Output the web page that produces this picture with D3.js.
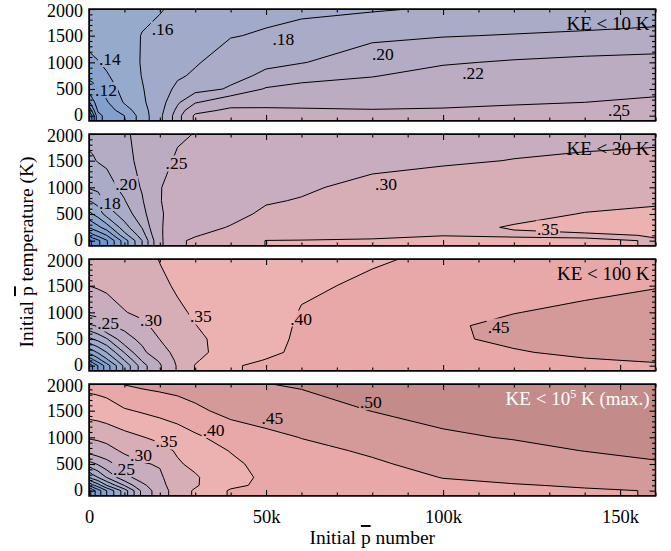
<!DOCTYPE html>
<html><head><meta charset="utf-8">
<script src="https://cdn.jsdelivr.net/npm/d3@7"></script>
<style>
html,body{margin:0;padding:0;background:#fff}
svg{display:block}
text{font-family:"Liberation Serif","Times New Roman",serif}
</style>
</head><body>
<svg id="chart" width="671" height="551"></svg>
<script>
// ---------- DATA ----------
// grid axes: initial pbar number (columns) and initial pbar temperature in K (rows)
const nGrid = [0, 1000, 2500, 5000, 10000, 15000, 20000, 25000, 30000, 40000, 50000, 60000, 80000, 100000, 120000, 140000, 160000];
const tGrid = [0, 100, 250, 500, 750, 1000, 1500, 2000];
const levels = [0.02, 0.04, 0.06, 0.08, 0.10, 0.12, 0.14, 0.16, 0.18, 0.20, 0.22, 0.25, 0.30, 0.35, 0.40, 0.45, 0.50];

// each row = one N column, values at tGrid temperatures
const ke10 = [
  [.02, .04, .075, .11, .125, .135, .147, .152],
  [.045, .07, .095, .113, .127, .137, .148, .153],
  [.095, .102, .107, .118, .13, .139, .15, .154],
  [.105, .11, .118, .128, .138, .144, .152, .156],
  [.12, .13, .142, .148, .151, .153, .155, .156],
  [.15, .153, .157, .159, .1605, .161, .1605, .157],
  [.175, .173, .171, .169, .167, .166, .164, .159],
  [.21, .205, .197, .185, .177, .172, .167, .163],
  [.255, .24, .218, .193, .183, .178, .174, .167],
  [.27, .256, .237, .202, .195, .19, .179, .172],
  [.272, .255, .24, .222, .203, .197, .182, .175],
  [.273, .253, .242, .226, .213, .199, .185, .177],
  [.275, .251, .243, .229, .219, .211, .196, .178],
  [.28, .252, .245, .235, .227, .218, .199, .182],
  [.285, .254, .248, .238, .23, .222, .201, .185],
  [.29, .26, .25, .241, .233, .225, .203, .187],
  [.295, .265, .255, .243, .235, .227, .205, .19]
];
const ke30 = [
  [.03, .065, .10, .135, .16, .182, .197, .205],
  [.045, .075, .107, .14, .163, .184, .198, .206],
  [.055, .085, .115, .148, .168, .186, .201, .207],
  [.078, .10, .13, .168, .186, .193, .203, .208],
  [.13, .152, .172, .19, .199, .205, .212, .216],
  [.18, .19, .201, .212, .218, .222, .227, .228],
  [.24, .243, .245, .246, .249, .249, .238, .232],
  [.295, .285, .275, .265, .26, .258, .255, .245],
  [.305, .298, .288, .278, .272, .268, .26, .251],
  [.318, .312, .302, .29, .283, .278, .27, .262],
  [.351, .328, .318, .306, .297, .29, .278, .268],
  [.352, .333, .323, .312, .302, .295, .282, .272],
  [.355, .34, .333, .325, .317, .31, .29, .28],
  [.36, .349, .342, .336, .328, .32, .295, .285],
  [.358, .346, .352, .343, .335, .327, .301, .287],
  [.353, .347, .357, .351, .343, .333, .305, .29],
  [.349, .351, .362, .357, .345, .338, .308, .292]
];
const ke100 = [
  [.04, .085, .125, .175, .215, .26, .301, .315],
  [.06, .095, .132, .18, .218, .262, .302, .317],
  [.08, .11, .142, .186, .223, .265, .305, .318],
  [.11, .135, .16, .198, .245, .275, .31, .322],
  [.165, .18, .201, .235, .26, .298, .318, .326],
  [.21, .222, .24, .26, .29, .31, .322, .33],
  [.245, .255, .28, .301, .315, .325, .34, .352],
  [.305, .31, .315, .325, .333, .342, .356, .362],
  [.352, .345, .335, .34, .349, .356, .365, .37],
  [.395, .385, .375, .37, .372, .375, .378, .38],
  [.41, .402, .39, .385, .385, .383, .382, .381],
  [.418, .415, .41, .408, .405, .402, .395, .39],
  [.425, .423, .42, .418, .415, .412, .405, .397],
  [.43, .432, .436, .446, .445, .435, .42, .405],
  [.44, .443, .448, .455, .458, .449, .44, .425],
  [.445, .448, .455, .465, .468, .458, .44, .43],
  [.447, .452, .46, .47, .47, .465, .448, .435]
];
const keMax = [
  [.05, .101, .16, .21, .262, .305, .372, .415],
  [.07, .115, .17, .215, .265, .307, .373, .416],
  [.09, .13, .18, .222, .27, .31, .375, .418],
  [.12, .16, .201, .235, .28, .318, .38, .422],
  [.17, .201, .235, .27, .31, .335, .395, .452],
  [.225, .24, .27, .295, .33, .348, .405, .46],
  [.27, .28, .29, .305, .335, .36, .415, .465],
  [.33, .335, .34, .345, .355, .375, .425, .47],
  [.355, .345, .345, .36, .375, .392, .44, .475],
  [.405, .39, .385, .39, .402, .42, .465, .49],
  [.415, .41, .408, .415, .425, .44, .47, .499],
  [.425, .42, .42, .43, .44, .451, .48, .505],
  [.43, .432, .435, .445, .455, .47, .501, .52],
  [.44, .443, .451, .462, .478, .493, .515, .53],
  [.445, .448, .458, .472, .487, .503, .522, .535],
  [.447, .453, .465, .48, .501, .51, .527, .54],
  [.451, .458, .47, .497, .507, .515, .532, .545]
];

// contour labels: text and location (number, temperature)
const labels10 = [
  {text: ".16", n: 20800, t: 1616}, {text: ".14", n: 5900, t: 1062}, {text: ".12", n: 4800, t: 481},
  {text: ".18", n: 54900, t: 1437}, {text: ".20", n: 83000, t: 1156}, {text: ".22", n: 108500, t: 800},
  {text: ".25", n: 149700, t: 106}
];
const labels30 = [
  {text: ".25", n: 24700, t: 1447}, {text: ".20", n: 10500, t: 1062}, {text: ".18", n: 5900, t: 706},
  {text: ".30", n: 83900, t: 1062}, {text: ".35", n: 129600, t: 228}
];
const labels100 = [
  {text: ".25", n: 5400, t: 791}, {text: ".30", n: 17500, t: 856}, {text: ".35", n: 31600, t: 922},
  {text: ".40", n: 59900, t: 884}, {text: ".45", n: 115700, t: 734}
];
const labelsMax = [
  {text: ".25", n: 9900, t: 406}, {text: ".30", n: 14700, t: 669}, {text: ".35", n: 21900, t: 922},
  {text: ".40", n: 35200, t: 1137}, {text: ".45", n: 51800, t: 1362}, {text: ".50", n: 79600, t: 1662}
];

const titles = [
  [{s: "KE < 10 K"}],
  [{s: "KE < 30 K"}],
  [{s: "KE < 100 K"}],
  [{s: "KE < 10"}, {s: "5", sup: true}, {s: " K (max.)"}]
];
const titleColors = ["#000", "#000", "#000", "#fff"];

const xTicks = [0, 50000, 100000, 150000];
const yTicks = [0, 500, 1000, 1500, 2000];

// colour map (value -> fill colour)
const colorValues = [0, 0.04, 0.08, 0.12, 0.14, 0.16, 0.18, 0.20, 0.22, 0.25, 0.30, 0.35, 0.40, 0.45, 0.50];
const colorHex = ["#5f84cf", "#6d90cf", "#7b9ace", "#8aa3cd", "#96aacb", "#a1abc9", "#aaabc7", "#b3acc4",
                  "#bbacc2", "#c8adbf", "#d8aeb6", "#ecb2b2", "#e8a8a8", "#d49a99", "#c38b8a"];

// ---------- RENDER ----------
const left = 89, right = 655.5, ph = 112, pstep = 125, top0 = 9;
const svg = d3.select("#chart");
const defs = svg.append("defs");
const x = d3.scaleLinear().domain([0, 160000]).range([left, right]);
const color = d3.scaleLinear().domain(colorValues).range(colorHex).interpolate(d3.interpolateRgb).clamp(true);
const fmtX = d => d === 0 ? "0" : (d / 1000) + "k";

const panelData = [ke10, ke30, ke100, keMax];
const panelLabels = [labels10, labels30, labels100, labelsMax];

function interpAxis(arr, c) {
  const f = Math.max(0, Math.min(arr.length - 1, c - 0.5));
  const i = Math.min(arr.length - 2, Math.floor(f));
  const u = f - i;
  return arr[i] + (arr[i + 1] - arr[i]) * u;
}

panelData.forEach((data, p) => {
  const top = top0 + p * pstep;
  const y = d3.scaleLinear().domain([-100, 2000]).range([top + ph, top]);
  const nx = nGrid.length;
  const rowT = [-100].concat(tGrid);       // extra bottom row extends fill to the axis
  const ny = rowT.length;
  const grid = new Array(nx * ny);
  for (let j = 0; j < ny; j++) {
    const src = Math.max(0, j - 1);
    for (let i = 0; i < nx; i++) grid[j * nx + i] = data[i][src];
  }
  const contours = d3.contours().size([nx, ny]).thresholds(levels)(grid);
  const proj = d3.geoTransform({
    point(px, py) { this.stream.point(x(interpAxis(nGrid, px)), y(interpAxis(rowT, py))); }
  });
  const path = d3.geoPath(proj);

  defs.append("clipPath").attr("id", "clip" + p)
    .append("rect").attr("x", left).attr("y", top).attr("width", right - left).attr("height", ph);

  const g = svg.append("g");
  const fillG = g.append("g").attr("clip-path", `url(#clip${p})`);
  fillG.append("rect").attr("x", left).attr("y", top).attr("width", right - left).attr("height", ph)
    .attr("fill", color(0));
  fillG.selectAll("path").data(contours).join("path")
    .attr("d", path).attr("fill", d => color(d.value)).attr("stroke", d => color(d.value)).attr("stroke-width", 0.3);

  const lineWrap = g.append("g").attr("clip-path", `url(#clip${p})`);
  const lineG = lineWrap.append("g").attr("mask", `url(#mask${p})`);
  lineG.selectAll("path").data(contours).join("path")
    .attr("d", path).attr("fill", "none").attr("stroke", "#000").attr("stroke-width", 1);

  const labG = g.append("g");
  const labs = labG.selectAll("text").data(panelLabels[p]).join("text")
    .attr("x", d => x(d.n)).attr("y", d => y(d.t))
    .attr("text-anchor", "middle").attr("dominant-baseline", "central")
    .attr("font-size", 17.5).attr("fill", "#000").text(d => d.text);

  const mask = defs.append("mask").attr("id", "mask" + p).attr("maskUnits", "userSpaceOnUse")
    .attr("x", 0).attr("y", 0).attr("width", 671).attr("height", 551);
  mask.append("rect").attr("x", 0).attr("y", 0).attr("width", 671).attr("height", 551).attr("fill", "#fff");
  labs.each(function () {
    const b = this.getBBox();
    mask.append("rect").attr("x", b.x - 1).attr("y", b.y + 2).attr("width", b.width + 2).attr("height", b.height - 4).attr("fill", "#000");
  });

  // title
  const tt = g.append("text").attr("x", right - 6).attr("y", top + 21).attr("text-anchor", "end")
    .attr("font-size", 19).attr("fill", titleColors[p]);
  titles[p].forEach((part, k) => {
    const ts = tt.append("tspan").text(part.s);
    if (part.sup) ts.attr("font-size", 12).attr("dy", -7);
    else if (k > 0 && titles[p][k - 1].sup) ts.attr("dy", 7);
  });

  // axes (inward ticks on all sides)
  const minorX = d3.range(0, 160001, 10000).filter(v => v % 50000 !== 0);
  const minorY = d3.range(100, 2001, 100).filter(v => v % 500 !== 0);
  const styleAxis = sel => { sel.select(".domain").remove(); sel.selectAll("line").attr("stroke", "#000").attr("stroke-width", 1.1); };

  g.append("g").attr("transform", `translate(0,${top + ph})`)
    .call(d3.axisBottom(x).tickValues(xTicks).tickSize(-6).tickSizeOuter(0).tickPadding(13.5)
      .tickFormat(p === 3 ? fmtX : () => ""))
    .call(styleAxis)
    .call(s => s.selectAll("text").attr("font-size", 18.5).attr("font-family", "Liberation Serif").attr("fill", "#000"));
  g.append("g").attr("transform", `translate(0,${top + ph})`)
    .call(d3.axisBottom(x).tickValues(minorX).tickSize(-3.5).tickSizeOuter(0).tickFormat(() => "")).call(styleAxis);
  g.append("g").attr("transform", `translate(0,${top})`)
    .call(d3.axisTop(x).tickValues(xTicks).tickSize(-6).tickSizeOuter(0).tickFormat(() => "")).call(styleAxis);
  g.append("g").attr("transform", `translate(0,${top})`)
    .call(d3.axisTop(x).tickValues(minorX).tickSize(-3.5).tickSizeOuter(0).tickFormat(() => "")).call(styleAxis);

  g.append("g").attr("transform", `translate(${left},0)`)
    .call(d3.axisLeft(y).tickValues(yTicks).tickSize(-6).tickSizeOuter(0).tickPadding(6).tickFormat(d3.format("d")))
    .call(styleAxis)
    .call(s => s.selectAll("text").attr("font-size", 18).attr("font-family", "Liberation Serif").attr("fill", "#000")
      .attr("dy", d => d === 0 ? "0.25em" : d === 2000 ? "0.4em" : "0.32em"));
  g.append("g").attr("transform", `translate(${left},0)`)
    .call(d3.axisLeft(y).tickValues(minorY).tickSize(-3.5).tickSizeOuter(0).tickFormat(() => "")).call(styleAxis);
  g.append("g").attr("transform", `translate(${right},0)`)
    .call(d3.axisRight(y).tickValues(yTicks).tickSize(-6).tickSizeOuter(0).tickFormat(() => "")).call(styleAxis);
  g.append("g").attr("transform", `translate(${right},0)`)
    .call(d3.axisRight(y).tickValues(minorY).tickSize(-3.5).tickSizeOuter(0).tickFormat(() => "")).call(styleAxis);

  g.append("rect").attr("x", left).attr("y", top).attr("width", right - left).attr("height", ph)
    .attr("fill", "none").attr("stroke", "#000").attr("stroke-width", 1.5);
});

// axis titles
const xt = svg.append("text").attr("x", (left + right) / 2).attr("y", 537).attr("text-anchor", "middle")
  .attr("dominant-baseline", "central").attr("font-size", 19.5).attr("fill", "#000");
xt.append("tspan").text("Initial ");
xt.append("tspan").attr("text-decoration", "overline").text("p");
xt.append("tspan").text(" number");

const yt = svg.append("text").attr("transform", "translate(26,252) rotate(-90)").attr("text-anchor", "middle")
  .attr("dominant-baseline", "central").attr("font-size", 19.5).attr("fill", "#000");
yt.append("tspan").text("Initial ");
yt.append("tspan").attr("text-decoration", "overline").text("p");
yt.append("tspan").text(" temperature (K)");
</script>
</body></html>
